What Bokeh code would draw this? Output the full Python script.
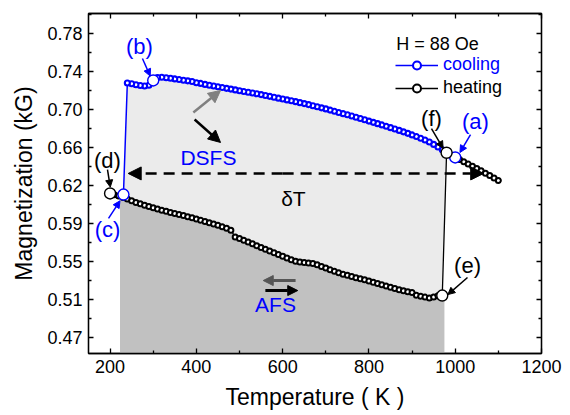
import numpy as np
from bokeh.plotting import figure
from bokeh.models import (Range1d, LinearAxis, FixedTicker, Label, Arrow,
                          NormalHead, Legend, LegendItem, CustomJSTickFormatter)
from bokeh.embed import file_html
from bokeh.resources import INLINE

# ---------------- data ----------------
cool_T = [1000, 990, 980, 970, 960, 950, 940, 930, 920, 910, 900, 890, 880,
          870, 860, 850, 840, 830, 820, 810, 800, 790, 780, 770, 760, 750,
          740, 730, 720, 710, 700, 690, 680, 670, 660, 650, 640, 630, 620,
          610, 600, 590, 580, 570, 560, 550, 540, 530, 520, 510, 500, 490,
          480, 470, 460, 450, 440, 430, 420, 410, 400, 390, 380, 370, 360,
          350, 340, 330, 320, 310, 300, 290, 280, 270, 260, 250, 240, 231]
cool_M = [0.6532, 0.6555, 0.6580, 0.6610, 0.6638, 0.6665, 0.6690, 0.6710,
          0.6728, 0.6745, 0.6762, 0.6778, 0.6793, 0.6808, 0.6822, 0.6836,
          0.6850, 0.6864, 0.6877, 0.6890, 0.6903, 0.6916, 0.6929, 0.6942,
          0.6955, 0.6967, 0.6979, 0.6991, 0.7003, 0.7015, 0.7027, 0.7038,
          0.7049, 0.7060, 0.7071, 0.7081, 0.7091, 0.7101, 0.7110, 0.7119,
          0.7128, 0.7137, 0.7146, 0.7155, 0.7164, 0.7173, 0.7181, 0.7189,
          0.7197, 0.7205, 0.7213, 0.7221, 0.7229, 0.7237, 0.7245, 0.7253,
          0.7261, 0.7269, 0.7277, 0.7287, 0.7294, 0.7306, 0.7313, 0.7320,
          0.7327, 0.7333, 0.7339, 0.7345, 0.7350, 0.7348, 0.7317, 0.7268,
          0.7260, 0.7266, 0.7274, 0.7283, 0.7292, 0.6154]

heat_T = [200, 210, 220, 230, 240, 250, 260, 270, 280, 290, 300, 310, 320,
          330, 340, 350, 360, 370, 380, 390, 400, 410, 420, 430, 440, 450,
          460, 470, 480, 490, 500, 510, 520, 530, 540, 550, 560, 570, 580,
          590, 600, 610, 620, 630, 640, 650, 660, 670, 680, 690, 700, 710,
          720, 730, 740, 750, 760, 770, 780, 790, 800, 810, 820, 830, 840,
          850, 860, 870, 880, 890, 900, 910, 920, 930, 940, 950, 960, 970,
          980, 990, 1000, 1010, 1020, 1030, 1040, 1050, 1060, 1070, 1080,
          1090, 1100]
heat_M = [0.6165, 0.6152, 0.6138, 0.6123, 0.6108, 0.6090, 0.6074, 0.6059,
          0.6045, 0.6032, 0.6019, 0.6006, 0.5994, 0.5983, 0.5972, 0.5961,
          0.5950, 0.5939, 0.5928, 0.5917, 0.5905, 0.5893, 0.5880, 0.5867,
          0.5854, 0.5840, 0.5825, 0.5810, 0.5790, 0.5722, 0.5705, 0.5687,
          0.5669, 0.5651, 0.5633, 0.5615, 0.5597, 0.5579, 0.5561, 0.5543,
          0.5525, 0.5507, 0.5489, 0.5474, 0.5466, 0.5460, 0.5455, 0.5450,
          0.5437, 0.5420, 0.5404, 0.5388, 0.5372, 0.5356, 0.5342, 0.5330,
          0.5318, 0.5306, 0.5295, 0.5284, 0.5273, 0.5260, 0.5247, 0.5234,
          0.5221, 0.5208, 0.5196, 0.5184, 0.5172, 0.5163, 0.5155, 0.5128,
          0.5118, 0.5108, 0.5098, 0.5110, 0.5122, 0.5124, 0.6580, 0.6556,
          0.6532, 0.6510, 0.6488, 0.6466, 0.6443, 0.6420, 0.6396, 0.6372,
          0.6347, 0.6322, 0.6297]

# marked states (a)..(f)
pt_names = ["(a)", "(b)", "(c)", "(d)", "(e)", "(f)"]
pt_T = [1000, 300, 231, 200, 970, 980]
pt_M = [0.6532, 0.7317, 0.6154, 0.6165, 0.5124, 0.6580]
pt_colors = ["blue", "blue", "blue", "black", "black", "black"]

# extent of the shaded regions (K)
fill_T_start = 223
fill_T_end = 975

x_ticks = [200, 400, 600, 800, 1000, 1200]
x_minor = [300, 500, 700, 900, 1100]
y_ticks = [0.47, 0.50875, 0.5475, 0.58625, 0.625, 0.66375, 0.7025, 0.74125, 0.78]
y_labels = ["0.47", "0.51", "0.55", "0.59", "0.62", "0.66", "0.70", "0.74", "0.78"]

FONT = "Liberation Sans"

# ---------------- figure ----------------
p = figure(width=570, height=415, x_range=Range1d(150, 1200),
           y_range=Range1d(0.4533, 0.80), output_backend="svg",
           toolbar_location=None, min_border_left=88, min_border_right=29,
           min_border_top=13, min_border_bottom=62)
p.grid.visible = False
p.outline_line_color = "black"
p.outline_line_width = 1.3
p.background_fill_color = "white"

y_minor = [(a + b) / 2 for a, b in zip(y_ticks[:-1], y_ticks[1:])] + [y_ticks[-1] + (y_ticks[1] - y_ticks[0]) / 2]
xt = FixedTicker(ticks=x_ticks, minor_ticks=x_minor)
yt = FixedTicker(ticks=y_ticks, minor_ticks=y_minor)


def style_axis(ax, labels=True):
    ax.major_tick_in = 5
    ax.major_tick_out = 0
    ax.minor_tick_in = 3
    ax.minor_tick_out = 0
    ax.axis_line_width = 1.3
    ax.major_tick_line_width = 1.3
    ax.minor_tick_line_width = 1.3
    ax.major_label_text_font = FONT
    ax.major_label_text_color = "black"
    ax.axis_label_text_font = FONT
    ax.axis_label_text_font_style = "normal"
    ax.axis_label_text_color = "black"
    ax.major_label_text_font_size = "18px"
    ax.axis_label_text_font_size = "23px"
    if not labels:
        ax.formatter = CustomJSTickFormatter(code="return ''")
        ax.major_label_standoff = 0


p.xaxis.ticker = xt
p.yaxis.ticker = yt
p.yaxis.major_label_overrides = {t: l for t, l in zip(y_ticks, y_labels)}
style_axis(p.xaxis[0])
style_axis(p.yaxis[0])
p.xaxis.axis_label = "Temperature ( K )"
p.yaxis.axis_label = "Magnetization (kG)"
p.xaxis.major_label_standoff = 6
p.xaxis.axis_label_standoff = 8
p.yaxis.major_label_standoff = 6
p.yaxis.axis_label_standoff = 7

top = LinearAxis(ticker=xt)
style_axis(top, labels=False)
p.add_layout(top, "above")
right = LinearAxis(ticker=yt)
style_axis(right, labels=False)
p.add_layout(right, "right")

# ---------------- shaded regions ----------------
cT = np.array(cool_T)
cM = np.array(cool_M)
hT = np.array(heat_T)
hM = np.array(heat_M)
bottom = 0.44

# dark grey: below heating curve
sel = (hT >= fill_T_start) & (hT <= 970)
h_start = np.interp(fill_T_start, hT[:10], hM[:10])
dark_x = [fill_T_start, fill_T_start] + list(hT[sel]) + [fill_T_end, fill_T_end]
dark_y = [bottom, h_start] + list(hM[sel]) + [hM[sel][-1], bottom]
p.patch(dark_x, dark_y, fill_color="#c1c1c1", line_color=None)

# light grey: between cooling and heating
up = (cT >= 240) & (cT <= 980)
upT = cT[up][::-1]
upM = cM[up][::-1]
lo = (hT >= 230) & (hT <= 970)
loT = hT[lo][::-1]
loM = hM[lo][::-1]
light_x = list(upT) + list(loT) + [cool_T[-1]]
light_y = list(upM) + list(loM) + [cool_M[-1]]
p.patch(light_x, light_y, fill_color="#ebebeb", line_color=None)

# ---------------- dashed delta-T arrow ----------------
p.add_layout(Arrow(x_start=600, y_start=0.6369, x_end=242, y_end=0.6369,
                   line_width=2.6, line_dash="11 7", line_color="black",
                   end=NormalHead(size=13, fill_color="black", line_color="black")))
p.add_layout(Arrow(x_start=600, y_start=0.6369, x_end=1066, y_end=0.6369,
                   line_width=2.6, line_dash="11 7", line_color="black",
                   end=NormalHead(size=13, fill_color="black", line_color="black")))

# ---------------- curves ----------------
cl = p.line(cool_T, cool_M, line_color="blue", line_width=1.5)
cs = p.scatter(cool_T[:-1], cool_M[:-1], size=5, line_color="blue",
               line_width=2.1, fill_color="white")
hl = p.line(heat_T, heat_M, line_color="black", line_width=1.3)
hsel = [i for i, t in enumerate(heat_T) if t not in (200, 970, 980)]
hs = p.scatter([heat_T[i] for i in hsel], [heat_M[i] for i in hsel], size=5,
               line_color="black", line_width=2.0, fill_color="white")

p.scatter(pt_T, pt_M, size=11, fill_color="white", line_color=pt_colors,
          line_width=1.4)

# ---------------- legend ----------------
def make_legend(item, loc, color):
    lg = Legend(items=[item], location=loc, border_line_color=None,
                background_fill_alpha=0, padding=0, margin=0, spacing=0,
                glyph_width=43, glyph_height=20, label_height=20,
                label_standoff=5, label_text_font=FONT,
                label_text_font_size="18px", label_text_color=color)
    p.add_layout(lg)


make_legend(LegendItem(label="cooling", renderers=[cl, cs]), (307, 278), "blue")
make_legend(LegendItem(label="heating", renderers=[hl, hs]), (307, 255), "black")
p.add_layout(Label(x=959, y=0.7684, text="H = 88 Oe", text_font=FONT,
                   text_font_size="18px", text_align="center",
                   text_baseline="middle", text_color="black"))

# ---------------- annotations ----------------
lab_T = [1047, 268, 194, 194, 1028.5, 945]
lab_M = [0.6899, 0.7664, 0.5797, 0.6501, 0.5430, 0.6929]
arr = [  # (x0, y0, x1, y1) for the label arrows, same order
    (1035.5, 0.6766, 1011, 0.6583),
    (275, 0.7541, 293, 0.7362),
    (196.4, 0.5910, 223, 0.6090),
    (194, 0.6409, 200.5, 0.6230),
    (1028.5, 0.5308, 983, 0.5134),
    (945, 0.6827, 972, 0.6625),
]
for name, x, y, c, (x0, y0, x1, y1) in zip(pt_names, lab_T, lab_M, pt_colors, arr):
    p.add_layout(Label(x=x, y=y, text=name, text_font=FONT, text_font_size="22px",
                       text_align="center", text_baseline="middle", text_color=c))
    p.add_layout(Arrow(x_start=x0, y_start=y0, x_end=x1, y_end=y1,
                       line_color=c, line_width=1.5,
                       end=NormalHead(size=7, fill_color=c, line_color=c)))

p.add_layout(Label(x=428, y=0.6532, text="DSFS", text_font=FONT,
                   text_font_size="21px", text_align="center",
                   text_baseline="middle", text_color="blue"))
p.add_layout(Label(x=583.5, y=0.5033, text="AFS", text_font=FONT,
                   text_font_size="21px", text_align="center",
                   text_baseline="middle", text_color="blue"))
p.add_layout(Label(x=625, y=0.6114, text="δT", text_font=FONT,
                   text_font_size="21px", text_align="center",
                   text_baseline="middle", text_color="black"))

# state-change arrows
p.add_layout(Arrow(x_start=393, y_start=0.6991, x_end=456, y_end=0.7215,
                   line_color="#808080", line_width=2.5,
                   end=NormalHead(size=12, fill_color="#808080", line_color="#808080")))
p.add_layout(Arrow(x_start=396, y_start=0.6919, x_end=456, y_end=0.6685,
                   line_color="black", line_width=2.5,
                   end=NormalHead(size=12, fill_color="black", line_color="black")))
p.add_layout(Arrow(x_start=630, y_start=0.5277, x_end=555, y_end=0.5277,
                   line_color="#555555", line_width=3,
                   end=NormalHead(size=10, fill_color="#555555", line_color="#555555")))
p.add_layout(Arrow(x_start=560, y_start=0.5175, x_end=635, y_end=0.5175,
                   line_color="black", line_width=3,
                   end=NormalHead(size=10, fill_color="black", line_color="black")))

open("out.html", "w").write(file_html(p, INLINE))
